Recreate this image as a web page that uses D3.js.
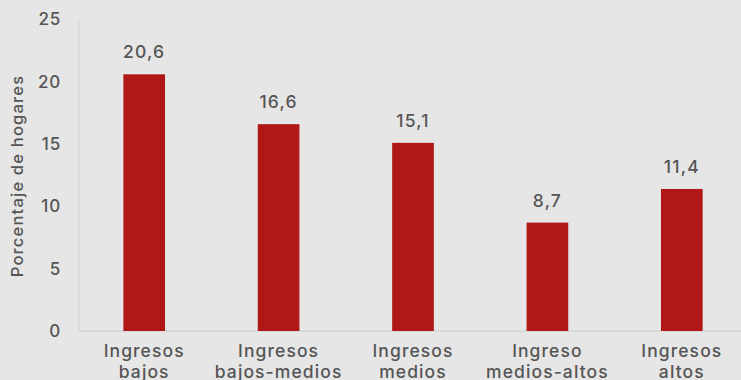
<!DOCTYPE html>
<html>
<head>
<meta charset="utf-8">
<script src="https://cdn.jsdelivr.net/npm/d3@7/dist/d3.min.js"></script>
<style>
  html, body { margin: 0; padding: 0; background: #e6e6e6; }
  svg { display: block; }
  text { font-family: Inter, "Open Sans", "DejaVu Sans", sans-serif; fill: #555555; font-weight: 500; }
</style>
</head>
<body>
<svg id="chart" width="741" height="380"></svg>
<script>
// Share of households by income group (%)
const categories = [
  ["Ingresos", "bajos"],
  ["Ingresos", "bajos-medios"],
  ["Ingresos", "medios"],
  ["Ingreso", "medios-altos"],
  ["Ingresos", "altos"]
];
const values = [20.6, 16.6, 15.1, 8.7, 11.4];
const yTicks = [0, 5, 10, 15, 20, 25];
const yTitle = "Porcentaje de hogares";

const svg = d3.select("#chart");
const W = 741, H = 380;
const x0 = 79, yBase = 331, yTop = 19.5;
const FONT = 'Inter, "Open Sans", "DejaVu Sans", sans-serif';

svg.append("rect").attr("width", W).attr("height", H).attr("fill", "#e6e6e6");

const x = d3.scaleBand()
  .domain(d3.range(values.length))
  .range([x0, 747])
  .paddingInner(0.69)
  .paddingOuter(0.33);

const y = d3.scaleLinear().domain([0, 25]).range([yBase, yTop]);

// axis lines
svg.append("line")
  .attr("x1", x0).attr("x2", x0)
  .attr("y1", y(25)).attr("y2", yBase)
  .attr("stroke", "#d4d4d4").attr("stroke-width", 1);
svg.append("line")
  .attr("x1", x0).attr("x2", W)
  .attr("y1", yBase).attr("y2", yBase)
  .attr("stroke", "#d4d4d4").attr("stroke-width", 1.5);

// y tick labels
const yAxis = d3.axisLeft(y).tickValues(yTicks).tickSize(0).tickPadding(18);
const gy = svg.append("g").attr("transform", `translate(${x0},0)`).call(yAxis);
gy.select(".domain").remove();
gy.selectAll("text")
  .style("font-family", FONT)
  .style("font-size", "17px")
  .style("font-weight", 500)
  .attr("letter-spacing", "0.8px")
  .attr("fill", "#555555");

// y axis title
svg.append("text")
  .attr("transform", `translate(23,176) rotate(-90)`)
  .attr("text-anchor", "middle")
  .style("font-size", "16.5px")
  .attr("letter-spacing", "1.2px")
  .text(yTitle);

// bars
svg.selectAll("rect.bar")
  .data(values)
  .join("rect")
  .attr("class", "bar")
  .attr("x", (d, i) => x(i))
  .attr("width", x.bandwidth())
  .attr("y", d => y(d))
  .attr("height", d => yBase - y(d))
  .attr("fill", "#b01818");

// value labels
svg.selectAll("text.val")
  .data(values)
  .join("text")
  .attr("class", "val")
  .attr("x", (d, i) => x(i) + x.bandwidth() / 2)
  .attr("y", d => y(d) - 16)
  .attr("text-anchor", "middle")
  .style("font-size", "17.5px")
  .attr("letter-spacing", "1.2px")
  .text(d => d3.format(".1f")(d).replace(".", ","));

// category labels
const xl = svg.selectAll("text.cat")
  .data(categories)
  .join("text")
  .attr("class", "cat")
  .attr("text-anchor", "middle")
  .style("font-size", "17.5px")
  .attr("letter-spacing", "1.1px");
xl.selectAll("tspan")
  .data((d, i) => d.map(s => ({ s, i })))
  .join("tspan")
  .attr("x", d => x(d.i) + x.bandwidth() / 2)
  .attr("y", (d, j) => 357 + j * 21)
  .text(d => d.s);
</script>
</body>
</html>
